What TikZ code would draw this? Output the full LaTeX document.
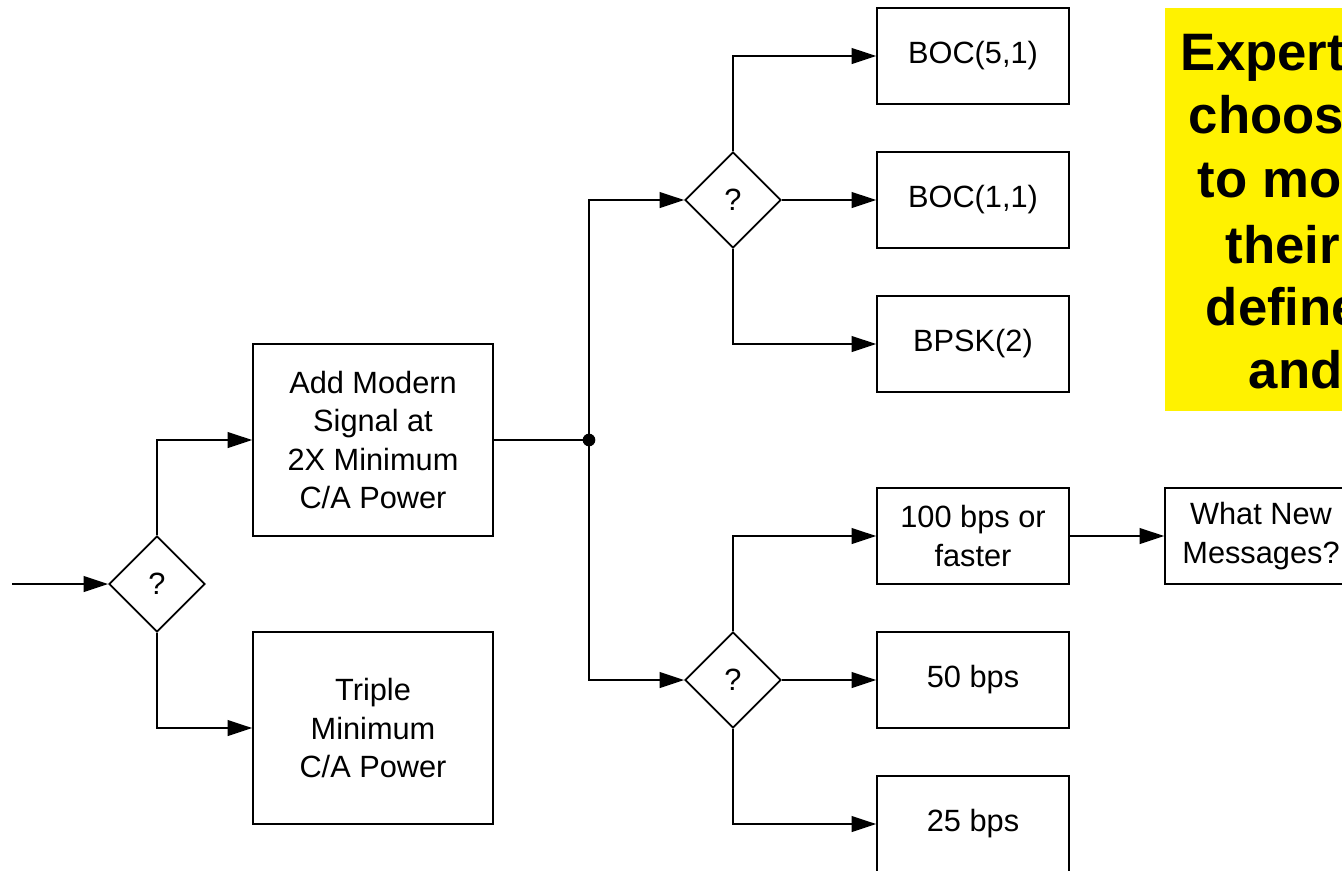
\documentclass[tikz,border=0pt]{standalone}
\usepackage{fontspec}
\setmainfont{Liberation Sans}
\usetikzlibrary{shapes.geometric,arrows.meta}

\begin{document}
\begin{tikzpicture}[x=0.02cm,y=-0.02cm,line width=1pt,
  >={Triangle[length=14pt,width=9pt]},
  box/.style={draw,align=center,inner sep=2pt,minimum width=3.84cm,
    minimum height=1.92cm,font=\fontsize{17.5}{21.7}\selectfont},
  bigbox/.style={box,minimum width=4.8cm,minimum height=3.84cm},
  ask/.style={draw,diamond,inner sep=0pt,minimum width=1.92cm,
    minimum height=1.92cm,font=\fontsize{17.5}{21.7}\selectfont},
  note/.style={anchor=base west,inner sep=0pt,
    font=\fontsize{30}{36}\selectfont\bfseries}]
  \useasboundingbox (0,0) rectangle (1342,870);
  \clip (0,0) rectangle (1342,870);
  % First choice: signal power.
  \coordinate (in) at (12,584);
  \node[ask] (q1) at (157,584) {?};
  \node[bigbox] (add) at (373,440) {Add Modern\\Signal at\\2X Minimum\\C/A Power};
  \node[bigbox] (triple) at (373,728) {Triple\\Minimum\\C/A Power};
  \draw[->] (in) -- (q1);
  \draw[->] (q1) |- (add);
  \draw[->] (q1) |- (triple);
  % Split to modulation and data rate.
  \coordinate (split) at (589,440);
  \node[ask] (q2) at (733,200) {?};
  \node[ask] (q3) at (733,680) {?};
  \draw (add) -- (split);
  \fill (split) circle (3.6pt);
  \draw[->] (split) |- (q2);
  \draw[->] (split) |- (q3);
  % Modulation.
  \node[box] (boc51) at (973,56) {BOC(5,1)};
  \node[box] (boc11) at (973,200) {BOC(1,1)};
  \node[box] (bpsk) at (973,344) {BPSK(2)};
  \draw[->] (q2) |- (boc51);
  \draw[->] (q2) -- (boc11);
  \draw[->] (q2) |- (bpsk);
  % Data rate.
  \node[box] (r100) at (973,536) {100 bps or\\faster};
  \node[box] (r50) at (973,680) {50 bps};
  \node[box] (r25) at (973,824) {25 bps};
  \node[box] (msg) at (1261,536) {What New\\Messages?};
  \draw[->] (q3) |- (r100);
  \draw[->] (q3) -- (r50);
  \draw[->] (q3) |- (r25);
  \draw[->] (r100) -- (msg);
  % Yellow note, cut at the right edge.
  \fill[yellow] (1165,8) rectangle (1420,411);
  \foreach \x/\y/\t [count=\i] in {1180/70/Expert,1188/133/choos,1197/197/to mo,
      1225/263/their,1205/325/define,1248/388/and}
    \node[note] (note\i) at (\x,\y) {\t};
\end{tikzpicture}
\end{document}
